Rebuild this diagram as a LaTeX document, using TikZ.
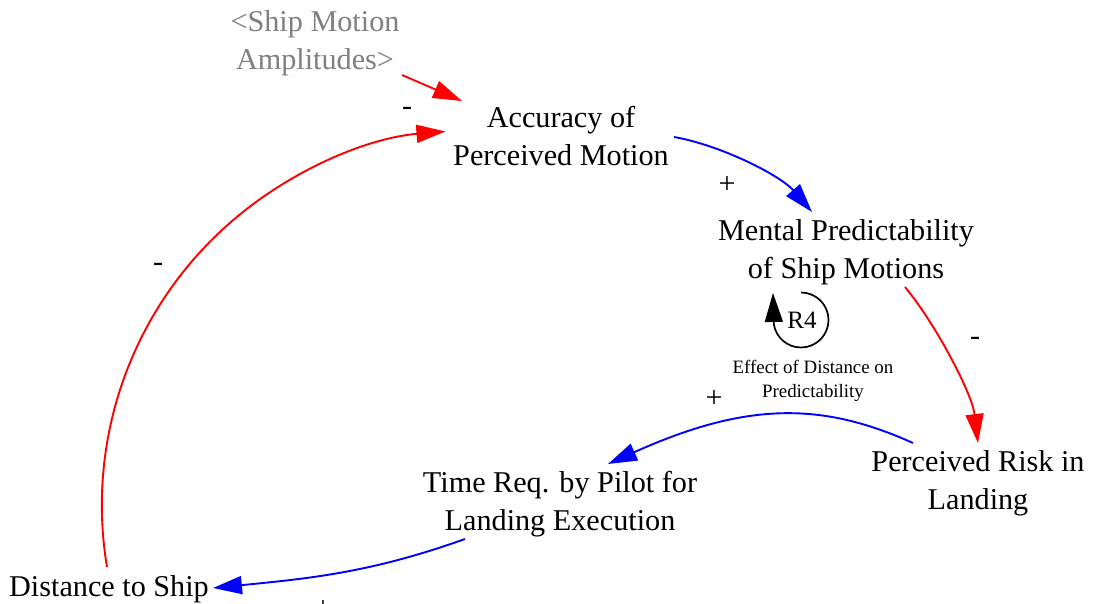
\documentclass[tikz,border=0pt]{standalone}
\usepackage{fontspec}
\setmainfont{Liberation Serif}
\usetikzlibrary{arrows.meta}
\definecolor{shadowgray}{RGB}{128,128,128}
\begin{document}
\begin{tikzpicture}[x=1pt,y=-1pt,
  var/.style={align=center,inner sep=0pt,font=\fontsize{30.2}{38}\selectfont},
  shadowvar/.style={var,text=shadowgray},
  pol/.style={inner sep=0pt,font=\fontsize{30}{38}\selectfont},
  link/.style={line width=1.9pt,-{Triangle[length=29pt,width=18pt]}},
  poslink/.style={link,color=blue},
  neglink/.style={link,color=red},
  looparrow/.style={line width=1.7pt,-{Triangle[length=29pt,width=18pt]}}]
\useasboundingbox (0,0) rectangle (1095,604);
\fill[white] (0,0) rectangle (1095,604);

% variables
\node[shadowvar] (amp) at (315,42.5) {\strut<Ship Motion\\\strut Amplitudes>};
\node[var] (acc) at (561,138.5) {\strut Accuracy of\\\strut Perceived Motion};
\node[var] (ment) at (846,251.5) {\strut Mental Predictability\\\strut of Ship Motions};
\node[var] (risk) at (978,482.5) {\strut Perceived Risk in\\\strut Landing};
\node[var] (treq) at (560,503.5) {\strut Time Req. by Pilot for\\\strut Landing Execution};
\node[var] (dist) at (109,588.5) {\strut Distance to Ship};

% loop identifier
\node[inner sep=0pt,font=\fontsize{25}{28}\selectfont] (r4) at (802,320) {R4};
\node[align=center,inner sep=0pt,font=\fontsize{18.9}{24}\selectfont] (eff) at (813,381)
  {\strut Effect of Distance on\\\strut Predictability};
\draw[looparrow] ([shift={(-1,-27.5)}]r4.center) arc[start angle=-90,end angle=170,radius=27.5]
  -- ([shift={(-29,-27)}]r4.center);

% causal links
\draw[neglink] ([shift={(87,32.5)}]amp.center) -- ([shift={(-99,-37.5)}]acc.center);
\draw[poslink] ([shift={(113,-1.5)}]acc.center) .. controls +(46,8) and +(-32,-37) .. ([shift={(-34,-39.5)}]ment.center);
\draw[neglink] ([shift={(59,35.5)}]ment.center) .. controls +(30,36) and +(-6,-50) .. ([shift={(0,-39.5)}]risk.center);
\draw[poslink] ([shift={(-65,-39.5)}]risk.center) .. controls +(-90,-40.5) and +(140,-63) .. ([shift={(48,-39.5)}]treq.center);
\draw[poslink] ([shift={(-95,35.5)}]treq.center) .. controls +(-95,34) and +(95,-9.5) .. ([shift={(104,-0.5)}]dist.center);
\draw[neglink] ([shift={(-2,-21.5)}]dist.center) arc[start angle=170.5,end angle=265.2,radius=375];

% polarities
\node[pol] (p1) at (407,111) {-};
\node[pol] (p2) at (727,185) {+};
\node[pol] (p3) at (158,267) {-};
\node[pol] (p4) at (975,341) {-};
\node[pol] (p5) at (714,399) {+};
\node[pol] (p6) at (323,609) {+};
\end{tikzpicture}
\end{document}
